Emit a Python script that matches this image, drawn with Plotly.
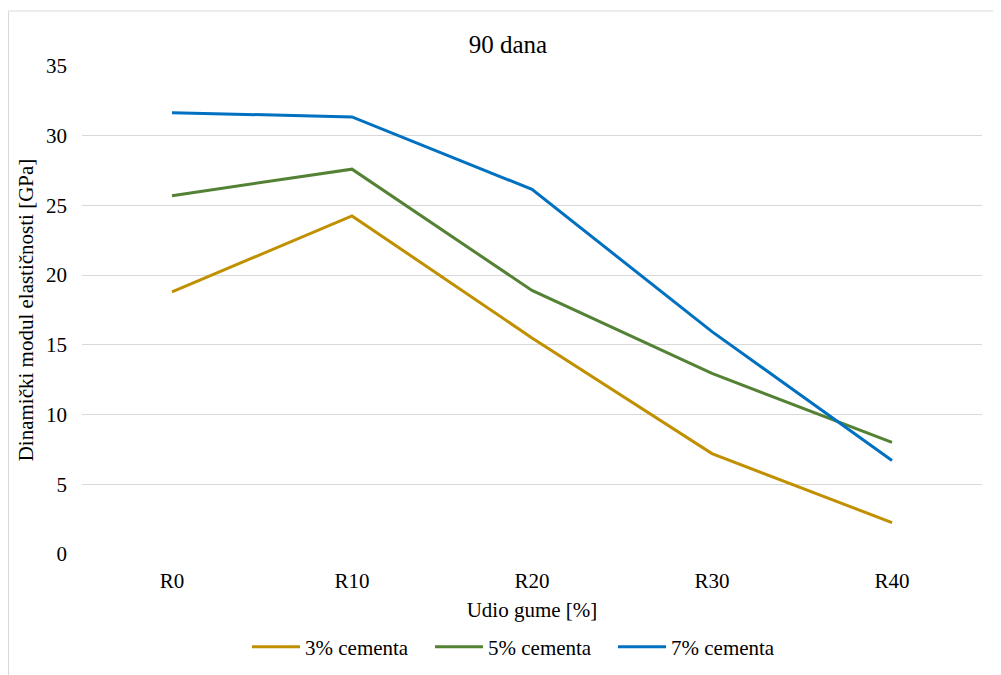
import plotly.graph_objects as go

categories = ["R0", "R10", "R20", "R30", "R40"]
cem3 = [18.8, 24.25, 15.5, 7.2, 2.25]
cem5 = [25.7, 27.6, 18.9, 12.95, 8.0]
cem7 = [31.65, 31.35, 26.15, 15.95, 6.7]
series_names = ["3% cementa", "5% cementa", "7% cementa"]
y_ticks = [0, 5, 10, 15, 20, 25, 30, 35]

colors = ["#C09000", "#548235", "#0070C0"]
FONT = "Liberation Serif, Times New Roman, serif"

# page offset: the html body adds an 8px margin
L, T, PW, PH = 74, 58, 900, 488

fig = go.Figure()
for name, vals, col in zip(series_names, [cem3, cem5, cem7], colors):
    fig.add_trace(go.Scatter(x=categories, y=vals, name=name, mode="lines",
                             line=dict(color=col, width=3)))

fig.update_layout(
    width=1001, height=675,
    margin=dict(l=L, r=1001 - L - PW, t=T, b=675 - T - PH),
    paper_bgcolor="white", plot_bgcolor="white",
    font=dict(family=FONT, size=21, color="#000000"),
    title=dict(text="90 dana", x=500/1001, xref="container", xanchor="center",
               y=1-36/675, yref="container", yanchor="middle",
               font=dict(family=FONT, size=25, color="#000000")),
    showlegend=True,
    legend=dict(orientation="h", x=(239 - L)/PW, xanchor="left",
                y=-93/PH, yanchor="middle",
                font=dict(family=FONT, size=21, color="#000000"),
                itemwidth=48, entrywidth=120, bgcolor="rgba(0,0,0,0)"),
    xaxis=dict(type="category", range=[-0.5, 4.5], showgrid=False, zeroline=False,
               showline=False, ticks="", ticklabelstandoff=12,
               tickfont=dict(family=FONT, size=21, color="#000000"),
               title=dict(text="Udio gume [%]", standoff=10,
                          font=dict(family=FONT, size=21, color="#000000"))),
    yaxis=dict(range=[0, 35], tickvals=y_ticks, showgrid=True, gridcolor="#D9D9D9",
               gridwidth=1, zeroline=False, showline=False, ticks="",
               ticklabelstandoff=14,
               tickfont=dict(family=FONT, size=21, color="#000000"),
               title=dict(text="Dinamički modul elastičnosti [GPa]", standoff=6,
                          font=dict(family=FONT, size=21, color="#000000"))),
    shapes=[dict(type="rect", xref="paper", yref="paper",
                 x0=(0.5 - L)/PW, x1=1.3, y0=-0.5, y1=(T + PH - 3)/PH,
                 line=dict(color="#D9D9D9", width=1), fillcolor="rgba(0,0,0,0)",
                 layer="below")],
)

fig.write_html("out.html")
